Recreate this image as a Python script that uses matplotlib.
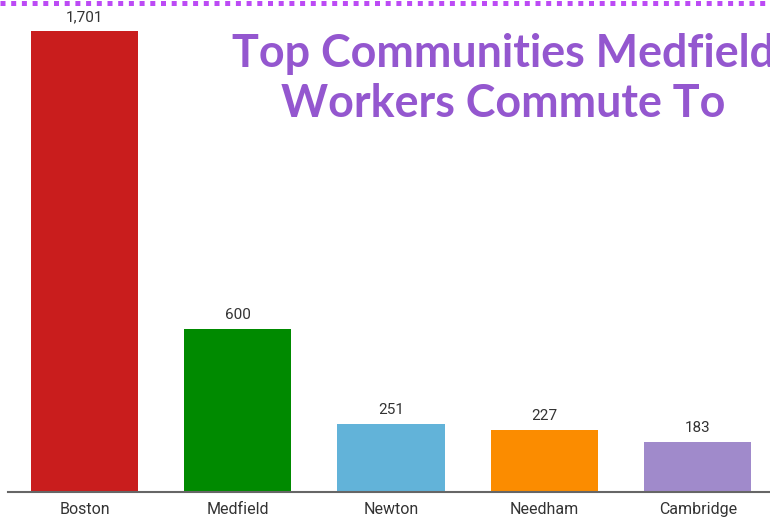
import matplotlib
matplotlib.use('Agg')
import matplotlib.pyplot as plt
from matplotlib.lines import Line2D

# data
towns   = ['Boston', 'Medfield', 'Newton', 'Needham', 'Cambridge']
workers = [1701, 600, 251, 227, 183]
colors  = ['#C91D1D', '#008A00', '#62B3D9', '#FB8C00', '#A08ACB']
title_lines = ['Top Communities Medfield', 'Workers Commute To']

W, H = 770, 519
fig = plt.figure(figsize=(W / 100, H / 100), dpi=100)

# axes rect in pixels: x-range -0.5..4.5 spans ~766 px, runs off the right edge
left_px, bottom_px, width_px, top_px = 7.85, 27, 766.5, 519
ax = fig.add_axes([left_px / W, bottom_px / H, width_px / W, (top_px - bottom_px) / H])

x = list(range(len(towns)))
bars = ax.bar(x, workers, width=0.7, color=colors, zorder=2)
ax.set_xlim(-0.5, len(towns) - 0.5)
ax.set_ylim(0, 1815)

for b, v in zip(bars, workers):
    ax.annotate('{:,}'.format(v), (b.get_x() + b.get_width() / 2, v),
                xytext=(0, 7), textcoords='offset pixels', ha='center', va='bottom',
                fontsize=11, color='#333333', family='Roboto')

ax.set_xticks(x)
ax.set_xticklabels(towns, fontsize=11.5, color='#333333', family='Roboto')
ax.tick_params(axis='x', length=0, pad=7)
ax.set_yticks([])
for s in ['top', 'right', 'left']:
    ax.spines[s].set_visible(False)
ax.spines['bottom'].set_color('#666666')
ax.spines['bottom'].set_linewidth(1.5)
ax.spines['bottom'].set_zorder(3)

# two-line title, baselines at ~67 px and ~117 px from top
for line, base in zip(title_lines, [67, 117]):
    fig.text(503 / W, 1 - base / H, line, ha='center', va='baseline', fontsize=32.3,
             fontweight='bold', color='#9457CF', family='Lato')

# dotted purple rule along the top edge
fig.add_artist(Line2D([0, 1], [1 - 2.5 / H, 1 - 2.5 / H], transform=fig.transFigure,
                      color='#BC4BF5', lw=3.6, dashes=(1.0, 1.14),
                      dash_capstyle='butt'))

fig.savefig('out.png', dpi=100)
